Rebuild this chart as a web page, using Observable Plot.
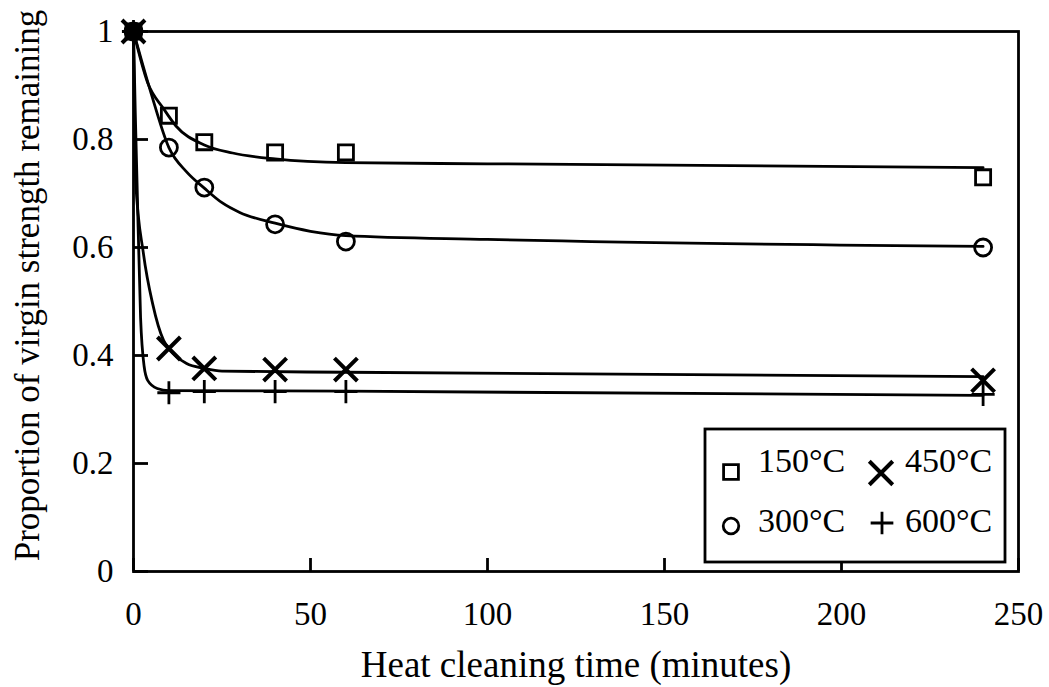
<!DOCTYPE html>
<html><head><meta charset="utf-8">
<script src="https://cdn.jsdelivr.net/npm/d3@7"></script>
<script src="https://cdn.jsdelivr.net/npm/@observablehq/plot@0.6"></script>
<style>
body{margin:0;background:#fff;}
#chart{position:relative;width:1049px;height:687px;}
</style>
</head><body><div id="chart"></div>
<script>
// ---- data ----
const seriesLabels = ["150°C", "300°C", "450°C", "600°C"];
const times = [0, 10, 20, 40, 60, 240];
const s150 = [1, 0.844, 0.795, 0.776, 0.776, 0.730];
const s300 = [1, 0.785, 0.711, 0.643, 0.611, 0.600];
const s450 = [1, 0.413, 0.376, 0.374, 0.374, 0.354];
const s600 = [1, 0.331, 0.333, 0.333, 0.333, 0.328];

// fitted curves
const fitT150 = [0, 4, 8.5, 12, 20, 28, 40, 60, 100, 240];
const fit150  = [1, 0.905, 0.857, 0.825, 0.79, 0.775, 0.764, 0.757, 0.755, 0.748];
const fitT300 = [0, 5, 10, 15, 20, 25, 30, 40, 50, 60, 100, 240];
const fit300  = [1, 0.885, 0.785, 0.74, 0.71, 0.683, 0.665, 0.645, 0.63, 0.622, 0.615, 0.602];
const fitT450 = [0, 0.6, 2.8, 5.4, 8.5, 10, 15, 20, 25, 60, 240];
const fit450  = [1, 0.724, 0.589, 0.496, 0.428, 0.413, 0.385, 0.376, 0.371, 0.369, 0.361];
const fitT600 = [0, 0.5, 1, 2, 3, 4, 6.7, 10, 60, 240];
const fit600  = [1, 0.85, 0.72, 0.47, 0.38, 0.354, 0.339, 0.335, 0.334, 0.326];

const xTicks = [0, 50, 100, 150, 200, 250];
const yTicks = [0, 0.2, 0.4, 0.6, 0.8, 1];
const xTitle = "Heat cleaning time (minutes)";
const yTitle = "Proportion of virgin strength remaining";

// ---- build tables ----
const pts = (vals, s) => times.map((t, i) => ({t, v: vals[i], s}));
const fit = (ts, vs, s) => ts.map((t, i) => ({t, v: vs[i], s}));
const P150 = pts(s150, seriesLabels[0]), P300 = pts(s300, seriesLabels[1]);
const P450 = pts(s450, seriesLabels[2]), P600 = pts(s600, seriesLabels[3]);
const fits = [
  ...fit(fitT150, fit150, seriesLabels[0]),
  ...fit(fitT300, fit300, seriesLabels[1]),
  ...fit(fitT450, fit450, seriesLabels[2]),
  ...fit(fitT600, fit600, seriesLabels[3])
];

const SW = 2.8;
const font = "'Liberation Serif', 'Times New Roman', serif";

const svgEl = Plot.plot({
  width: 1049, height: 687,
  marginLeft: 133, marginRight: 31, marginTop: 31, marginBottom: 116,
  style: {fontFamily: font, fontSize: "33px", color: "#000", background: "#fff"},
  x: {domain: [0, 250], ticks: xTicks},
  y: {domain: [0, 1], ticks: yTicks},
  marks: [
    Plot.frame({stroke: "#000", strokeWidth: SW}),
    Plot.axisX(xTicks, {tickSize: -13, tickPadding: 43, strokeWidth: SW, fontSize: 33, label: null, tickFormat: d => String(d)}),
    Plot.axisY(yTicks, {tickSize: -15, tickPadding: 35, strokeWidth: SW, fontSize: 33, label: null,
      tickFormat: d => (d === 0 || d === 1) ? String(d) : d.toFixed(1)}),
    Plot.line(fits, {x: "t", y: "v", z: "s", curve: "monotone-x", stroke: "#000", strokeWidth: SW}),
    Plot.dot(P150, {x: "t", y: "v", symbol: "square", r: 8.5, stroke: "#000", strokeWidth: SW,
      fill: d => d.t === 0 ? "#000" : "none"}),
    Plot.dot(P300, {x: "t", y: "v", symbol: "circle", r: 8.5, stroke: "#000", strokeWidth: SW, fill: "none"}),
    Plot.dot(P450, {x: "t", y: "v", symbol: "times", r: 10.5, stroke: "#000", strokeWidth: 4, fill: "none"}),
    Plot.dot(P600, {x: "t", y: "v", symbol: "plus", r: 7.5, stroke: "#000", strokeWidth: SW, fill: "none"}),
    Plot.text([xTitle], {text: d => d, frameAnchor: "bottom", dy: 94, lineAnchor: "middle", textAnchor: "middle", fontSize: 37, fill: "#000"}),
    Plot.text([yTitle], {text: d => d, frameAnchor: "left", dx: -106, dy: -16, rotate: -90, lineAnchor: "middle", textAnchor: "middle", fontSize: 35, fill: "#000"})
  ]
});
document.getElementById("chart").appendChild(svgEl);

// ---- legend box (drawn into the same svg) ----
const svg = d3.select(svgEl);
const lg = svg.append("g").attr("font-family", font).attr("font-size", 34).attr("text-anchor", "start");
lg.append("rect").attr("x", 705).attr("y", 429).attr("width", 300).attr("height", 133)
  .attr("fill", "#fff").attr("stroke", "#000").attr("stroke-width", SW);
const legendItems = [
  {label: seriesLabels[0], sym: d3.symbolSquare, size: 220, sx: 731, sy: 472, tx: 758, ty: 472},
  {label: seriesLabels[2], sym: d3.symbolTimes, size: 360, sx: 881, sy: 473, tx: 905, ty: 472},
  {label: seriesLabels[1], sym: d3.symbolCircle, size: 190, sx: 731, sy: 526, tx: 758, ty: 532},
  {label: seriesLabels[3], sym: d3.symbolPlus, size: 170, sx: 882, sy: 523, tx: 905, ty: 532}
];
for (const it of legendItems) {
  lg.append("path").attr("d", d3.symbol(it.sym, it.size)())
    .attr("transform", `translate(${it.sx},${it.sy})`)
    .attr("fill", "none").attr("stroke", "#000").attr("stroke-width", it.sym === d3.symbolTimes ? 4 : SW);
  lg.append("text").attr("x", it.tx).attr("y", it.ty).attr("fill", "#000").text(it.label);
}
</script></body></html>
